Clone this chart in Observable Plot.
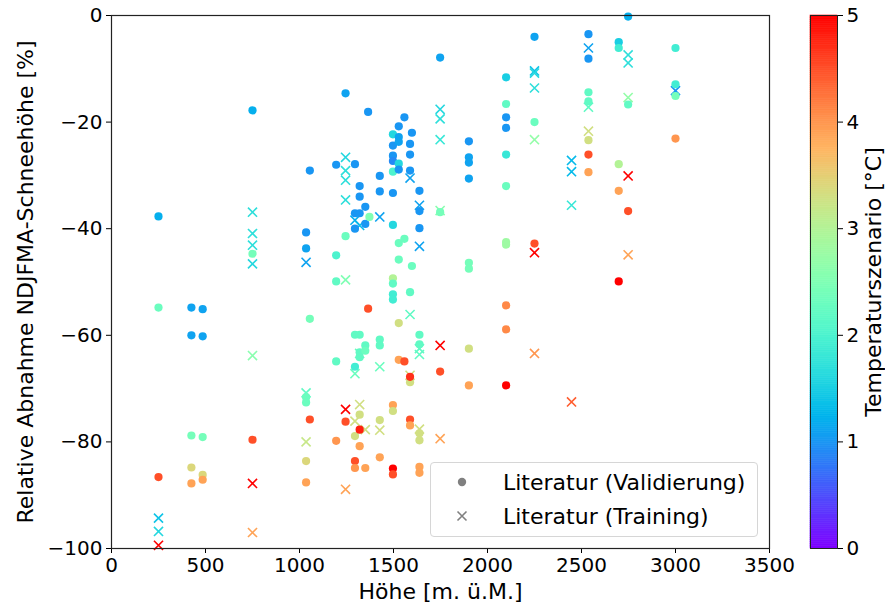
<!DOCTYPE html>
<html>
<head>
<meta charset="utf-8">
<script src="https://cdn.jsdelivr.net/npm/d3@7"></script>
<script src="https://cdn.jsdelivr.net/npm/@observablehq/plot@0.6"></script>
<style>
  html, body { margin: 0; padding: 0; background: #fff; }
  #wrap { position: relative; width: 885px; height: 605px; font-family: "DejaVu Sans", sans-serif; }
  #wrap > * { position: absolute; }
  #legend { left: 430px; top: 462px; width: 326px; height: 73px; border: 1px solid #d6d6d6; border-radius: 4px; background: rgba(255,255,255,0.85); }
</style>
</head>
<body>
<div id="wrap"></div>
<script>
// ---------- data ----------
// Validation points (dots): elevation [m], relative decrease [%], temperature scenario [°C]
const valH = [250,250,250, 425,425,425,425,425, 485,485,485,485,485, 750,750,750,
  1035,1035,1035,1035,1035,1035, 1055,1055,1055, 1195,1195,1195,1195,1195, 1245,1245,1245,
  1295,1295,1295,1295,1295,1295,1295,1295, 1320,1320,1320,1320,1320,1320,1320,1320,1320,
  1350,1350,1350,1350,1350, 1372, 1365,1365, 1427,1427,1427,1427,1427,1427,
  1497,1497,1497,1497,1497,1497,1497,1497,1497,1497,1497,1497,1497,1497,1497,
  1528,1528,1528,1528,1528,1528,1528,1528,1528, 1558,1558,1558,
  1588,1588,1588,1588,1588,1588,1588,1588, 1598,1598,
  1638,1638,1638,1638,1638,1638,1638,1638,1638, 1748,1748,1748,
  1901,1901,1901,1901,1901,1901,1901,1901,
  2099,2099,2099,2099,2099,2099,2099,2099,2099,2099,2099, 2250,2250,2250,
  2537,2537,2537,2537,2537,2537,2537, 2698,2698,2698,2698,2698, 2748,2748,2748,
  3000,3000,3000,3000];
const valV = [-37.7,-54.8,-86.6, -54.8,-60,-78.8,-84.8,-87.8, -55.1,-60.2,-79.1,-86.2,-87.1, -17.8,-44.7,-79.6,
  -40.7,-43.7,-71.6,-72.6,-83.6,-87.6, -29.1,-56.9,-75.8, -28,-45,-49.9,-64.9,-79.8, -14.6,-41.4,-76.2,
  -27.9,-37.1,-40,-59.9,-65.9,-78.9,-83.6,-84.9, -32,-34,-37.1,-59.9,-64.1,-63.2,-74.9,-77.7,-80.8,
  -35.9,-39.1,-61.9,-62.9,-84.9, -37.8, -18.1,-55, -30.1,-33,-60.8,-61.9,-75.9,-82.9,
  -22.3,-24.4,-26.3,-27.3,-29.3,-33.3,-39.3,-49.3,-50.3,-52.3,-53.3,-73.1,-74.2,-85,-86.1,
  -20.8,-22.8,-23.7,-27.8,-28.9,-42.7,-45.8,-57.7,-64.6, -19.1,-41.9,-64.9,
  -24.1,-26.1,-29.1,-51.9,-68.8,-75.8,-76.9,-67.8, -22,-47,
  -32.9,-36.7,-39.9,-59.9,-61.7,-78.4,-79.7,-84.7,-85.8, -7.9,-36.9,-66.8,
  -23.6,-26.6,-27.6,-30.6,-46.4,-47.5,-62.5,-69.4,
  -11.6,-16.6,-19.1,-21.1,-26.1,-32,-42.5,-43,-54.4,-58.9,-69.4, -4,-20,-42.8,
  -3.5,-8.1,-14.4,-16.1,-23.4,-26.1,-29.4, -5,-6.1,-27.9,-32.9,-49.9, -0.2,-16.7,-36.7,
  -6.1,-12.9,-15.1,-23.1];
const valT = [1.2,2.3,4.5, 1.1,1.1,2.4,3.4,3.9, 1.1,1.1,2.4,3.4,3.9, 1.2,2.4,4.5,
  1.0,1.1,2.3,2.3,3.4,3.9, 1.0,2.4,4.5, 1.0,2.0,2.2,2.2,4.0, 1.1,2.3,4.5,
  1.0,1.0,1.0,2.2,1.9,3.3,4.5,4.0, 1.0,1.0,1.0,2.2,2.2,2.2,3.3,4.8,3.9,
  1.0,1.0,2.2,2.3,3.9, 2.5, 1.0,4.5, 1.0,1.0,2.2,2.2,3.3,3.9,
  1.6,1.0,1.0,0.9,2.0,1.0,1.6,3.0,2.2,1.9,1.9,3.9,3.3,5.0,4.5,
  1.0,1.1,1.1,1.6,1.0,2.3,2.3,3.3,3.9, 1.0,2.3,4.5,
  1.0,1.0,1.0,2.2,3.3,4.5,3.9,4.7, 1.0,2.3,
  1.0,1.0,1.0,2.2,2.2,3.3,3.3,3.9,3.9, 1.1,2.4,4.5,
  1.0,1.1,1.1,1.1,2.4,2.4,3.3,3.9,
  1.5,2.2,1.0,1.0,1.8,2.3,2.8,2.8,4.1,4.1,5.0, 1.1,2.3,4.5,
  1.0,1.0,2.2,2.2,3.3,4.5,3.9, 1.5,1.9,3.0,3.9,5.0, 1.2,2.2,4.5,
  1.9,1.9,2.4,4.0];

// Training points (crosses)
const trnH = [250,250,250, 750,750,750,750,750,750,750, 1035,1035,1035,
  1245,1245,1245,1245,1245,1245,1245, 1295,1295,1295, 1320,1320,1320, 1350,
  1427,1427,1427, 1588,1588,1588, 1638,1638,1638,1638,1638,
  1748,1748,1748,1748,1748,1748, 2250,2250,2250,2250,2250,2250,
  2447,2447,2447,2447, 2537,2537,2537, 2748,2748,2748,2748,2748, 3000];
const trnV = [-94.3,-96.8,-99.4, -36.9,-40.9,-43.1,-46.6,-63.8,-87.8,-97, -46.3,-70.8,-80,
  -26.6,-29.1,-30.9,-34.6,-49.6,-73.9,-88.9, -38.4,-67.2,-76.1, -39.4,-63.4,-73, -77.7,
  -37.8,-65.9,-77.8, -30.5,-56.1,-67.5, -35.6,-43.3,-62.5,-63.6,-77.6,
  -17.6,-19.4,-23.3,-36.6,-61.9,-79.4, -10.4,-10.8,-13.6,-23.3,-44.5,-63.4,
  -27.2,-29.3,-35.6,-72.5, -6.1,-17.2,-21.7, -7.4,-8.9,-15.4,-30.1,-44.9, -14.1];
const trnT = [1.4,1.6,5.0, 1.7,1.7,1.7,1.6,2.6,5.0,3.9, 1.1,2.2,3.2,
  1.6,1.7,1.7,1.7,2.5,5.0,3.9, 1.2,2.3,3.3, 1.3,2.3,3.3, 3.3,
  1.1,2.3,3.3, 1.1,2.2,3.3, 1.1,1.1,2.2,2.2,3.3,
  1.6,1.7,1.8,2.6,5.0,3.9, 1.4,1.6,1.7,2.7,5.0,4.0,
  1.3,1.3,1.8,4.4, 1.1,2.2,3.3, 1.7,1.7,2.7,5.0,3.9, 1.0];

const xTicks = [0, 500, 1000, 1500, 2000, 2500, 3000, 3500];
const yTicks = [0, -20, -40, -60, -80, -100];
const cTicks = [0, 1, 2, 3, 4, 5];
const xLabel = "Höhe [m. ü.M.]";
const yLabel = "Relative Abnahme NDJFMA-Schneehöhe [%]";
const cLabel = "Temperaturszenario [°C]";
const legendLabels = ["Literatur (Validierung)", "Literatur (Training)"];

// ---------- build ----------
const val = valH.map((h, i) => ({h, v: valV[i], t: valT[i]}));
const trn = trnH.map((h, i) => ({h, v: trnV[i], t: trnT[i]}));

// matplotlib "rainbow" colormap
const clamp = x => Math.max(0, Math.min(1, x));
const rainbow = t => {
  const r = clamp(Math.abs(2 * t - 0.5)), g = clamp(Math.sin(Math.PI * t)), b = clamp(Math.cos(Math.PI * t / 2));
  return d3.rgb(r * 255, g * 255, b * 255).formatHex();
};
const colorOpts = {type: "linear", domain: [0, 5], interpolate: rainbow};
const FONT = "DejaVu Sans";
const FS = 20;

const main = Plot.plot({
  width: 885, height: 605,
  marginLeft: 111, marginRight: 116, marginTop: 15, marginBottom: 57,
  style: {fontFamily: FONT, fontSize: FS + "px", color: "#000", background: "transparent"},
  x: {domain: [0, 3500], ticks: xTicks, tickSize: 5, tickPadding: 4, label: null, tickFormat: d3.format("d")},
  y: {domain: [-100, 0], ticks: yTicks, tickSize: 5, tickPadding: 4, label: null},
  color: colorOpts,
  marks: [
    Plot.dot(trn, {x: "h", y: "v", stroke: "t", symbol: "times", r: 4.2, strokeWidth: 1.6}),
    Plot.dot(val, {x: "h", y: "v", fill: "t", r: 4.1, stroke: null}),
    Plot.frame({stroke: "#222", strokeWidth: 1.2}),
    Plot.text([xLabel], {frameAnchor: "bottom", dy: 43, text: d => d, fontSize: FS + 2, lineAnchor: "middle", textAnchor: "middle"}),
    Plot.text([yLabel], {frameAnchor: "left", dx: -86, rotate: -90, text: d => d, fontSize: FS + 2, lineAnchor: "middle", textAnchor: "middle"})
  ]
});
main.style.left = "0px"; main.style.top = "0px";

const bands = d3.range(0, 5, 0.02);
const cbar = Plot.plot({
  width: 85, height: 605,
  marginLeft: 10, marginRight: 48, marginTop: 15, marginBottom: 57,
  style: {fontFamily: FONT, fontSize: FS + "px", color: "#000", background: "transparent"},
  x: {domain: [0, 1], axis: null},
  y: {domain: [0, 5], ticks: cTicks, axis: "right", tickSize: 5, tickPadding: 4, label: null, tickFormat: d3.format("d")},
  color: colorOpts,
  marks: [
    Plot.rect(bands, {x1: 0, x2: 1, y1: d => d, y2: d => d + 0.02, fill: d => d + 0.01, stroke: d => d + 0.01, strokeWidth: 0.6}),
    Plot.frame({stroke: "#222", strokeWidth: 1}),
    Plot.text([cLabel], {frameAnchor: "right", dx: 36, rotate: -90, text: d => d, fontSize: FS + 2, lineAnchor: "middle", textAnchor: "middle"})
  ]
});
cbar.style.left = "800px"; cbar.style.top = "0px";

const wrap = document.getElementById("wrap");
wrap.appendChild(main);
wrap.appendChild(cbar);

// legend
const leg = document.createElement("div");
leg.id = "legend";
const ns = "http://www.w3.org/2000/svg";
const lsvg = document.createElementNS(ns, "svg");
lsvg.setAttribute("width", 326); lsvg.setAttribute("height", 73);
lsvg.style.position = "absolute"; lsvg.style.left = "0"; lsvg.style.top = "0";
const c = document.createElementNS(ns, "circle");
c.setAttribute("cx", 31); c.setAttribute("cy", 19); c.setAttribute("r", 4.2); c.setAttribute("fill", "#808080");
lsvg.appendChild(c);
const xs = document.createElementNS(ns, "path");
xs.setAttribute("d", "M26.5,48.5L35.5,57.5M26.5,57.5L35.5,48.5");
xs.setAttribute("stroke", "#808080"); xs.setAttribute("stroke-width", 1.6); xs.setAttribute("fill", "none");
lsvg.appendChild(xs);
legendLabels.forEach((s, i) => {
  const t = document.createElementNS(ns, "text");
  t.setAttribute("x", 72); t.setAttribute("y", i === 0 ? 19 : 53);
  t.setAttribute("dy", "0.35em");
  t.setAttribute("font-family", FONT); t.setAttribute("font-size", FS + 2);
  t.setAttribute("fill", "#000");
  t.textContent = s;
  lsvg.appendChild(t);
});
leg.appendChild(lsvg);
wrap.appendChild(leg);
</script>
</body>
</html>
